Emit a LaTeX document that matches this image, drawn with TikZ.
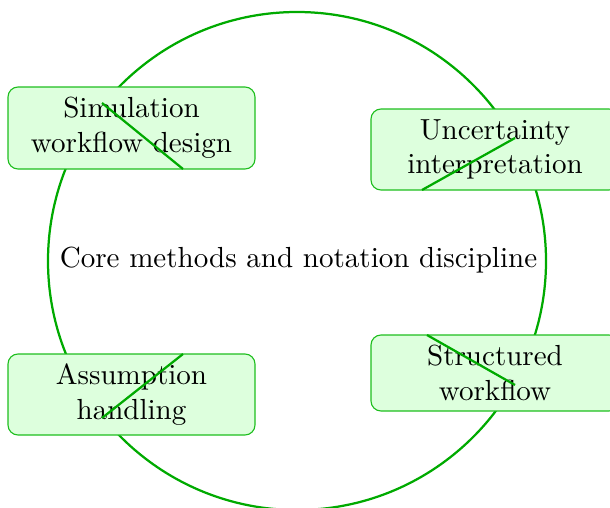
\documentclass[tikz,border=0pt]{standalone}
\usepackage{tikz}
\definecolor{lgreen}{RGB}{0,170,0}
\definecolor{bgreen}{RGB}{30,190,30}
\definecolor{fgreen}{RGB}{221,255,221}
\tikzset{
  txt/.style={font=\fontsize{10.37}{12.4}\selectfont},
  box/.style={txt, draw=bgreen, line width=0.4pt, fill=fgreen, rounded corners={10*0.357pt}, align=center, inner sep=0pt},
  ring/.style={draw=lgreen, line width=0.8pt},
  seg/.style={draw=lgreen, line width=0.8pt},
}
\begin{document}
\begin{tikzpicture}[x=0.357pt,y=-0.357pt]
\useasboundingbox (0,0) rectangle (610,507);
\coordinate (c) at (297,261);
\draw[ring] (c) circle[radius={249*0.357pt}];
\node[txt] (core) at (298.5,260) {Core methods and notation discipline};
\node[box, minimum width={247*0.357pt}, minimum height={82*0.357pt}] (b1) at (131.5,128) {Simulation\\workflow design};
\node[box, minimum width={248*0.357pt}, minimum height={81*0.357pt}] (b2) at (495,149.5) {Uncertainty\\interpretation};
\node[box, minimum width={247*0.357pt}, minimum height={81*0.357pt}] (b3) at (131.5,394.5) {Assumption\\handling};
\node[box, minimum width={248*0.357pt}, minimum height={76*0.357pt}] (b4) at (495,373) {Structured\\workflow};
\coordinate (s1a) at (102,103); \coordinate (s1b) at (183,169);
\coordinate (s2a) at (422,190); \coordinate (s2b) at (515,138);
\coordinate (s3a) at (183,354); \coordinate (s3b) at (102,418);
\coordinate (s4a) at (427,335); \coordinate (s4b) at (515,385);
\draw[seg] (s1a) -- (s1b);
\draw[seg] (s2a) -- (s2b);
\draw[seg] (s3a) -- (s3b);
\draw[seg] (s4a) -- (s4b);
\end{tikzpicture}
\end{document}
